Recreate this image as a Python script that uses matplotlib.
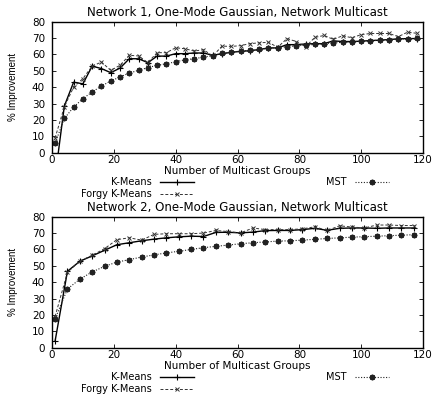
import numpy as np
import matplotlib
matplotlib.use("Agg")
import matplotlib.pyplot as plt
from matplotlib.lines import Line2D

plt.rcParams['font.family'] = ['DejaVu Sans']

# ---------- data, network 1 (x = 1, 4, ..., 118) ----------
x1 = list(range(1, 119, 3))
kmeans1 = [-15, 28.5, 43, 42, 52.8, 51.3, 48.8, 51.6, 57.3, 57.3, 54.9, 58.9, 58.9, 60.4,
           60.4, 60.8, 60.8, 59.4, 60.4, 61.2, 61.8, 62.2, 62.9, 63.9, 63.9, 65.9, 65.9,
           66.3, 66.5, 66.5, 68.2, 67.8, 67.8, 68, 68.4, 68.6, 69, 69.4, 69.6, 69.6]
forgy1 = [9, 28, 40, 45.2, 52.8, 55.3, 50.2, 53.3, 59.4, 59, 55, 61, 61, 64,
          63.4, 62, 62.8, 59, 65, 64.8, 65.3, 66.5, 67, 67.3, 64.3, 69.6, 67.8,
          64.6, 70.3, 71.5, 69.1, 71.3, 70.1, 72, 72.7, 72.7, 72.7, 70.8, 73.5, 72.8]
mst1 = [5.7, 20.9, 27.8, 33, 37, 40.7, 43.7, 46.2, 48.6, 50.2, 51.9, 53.3, 54.3, 55.4,
        56.7, 57.3, 58.3, 59.2, 60.6, 61.3, 62, 62.4, 63, 63.7, 64.1, 64.7, 65.2,
        65.6, 66, 66.5, 67, 67.3, 67.6, 68, 68.3, 68.6, 69, 69.3, 69.5, 69.7]

# ---------- data, network 2 (x = 1, 5, ..., 117) ----------
x2 = list(range(1, 118, 4))
kmeans2 = [4, 46.6, 52.7, 56, 59.4, 62.8, 64, 65.2, 66.2, 67, 67.6, 68, 67.8, 70.3, 70.4,
           70, 70.5, 71.4, 71.5, 71.5, 72, 72.8, 71.6, 72.8, 73, 73, 72.8, 73, 73, 73]
forgy2 = [19, 46, 52.8, 56.3, 60.4, 65.9, 67, 65.6, 69.1, 69.5, 69.5, 69.5, 69.9, 71.5, 70.8,
          70, 73, 72, 72, 72, 72.5, 73.7, 71.5, 74.3, 73.6, 73, 74.8, 74.8, 74.5, 74.5]
mst2 = [17.5, 35.8, 41.8, 46.2, 49.6, 52.2, 53.7, 55.3, 56.6, 57.8, 58.8, 59.9, 61, 61.8, 62.6,
        63.4, 64, 64.5, 65, 65.2, 65.6, 66.1, 66.6, 67, 67.4, 67.7, 68, 68.3, 68.6, 68.9]

titles = ["Network 1, One-Mode Gaussian, Network Multicast",
          "Network 2, One-Mode Gaussian, Network Multicast"]
xticks = [0, 20, 40, 60, 80, 100, 120]
yticks = [0, 10, 20, 30, 40, 50, 60, 70, 80]

star = (8, 2, 0)
styles = {
    "K-Means": dict(color="black", lw=1.0, ls="-", marker="+", ms=4, mew=0.8),
    "Forgy K-Means": dict(color="#333333", lw=0.7, ls=(0, (3, 2)), marker="x", ms=3.5, mew=0.7),
    "MST": dict(color="#222222", lw=0.8, ls=(0, (1, 1.5)), marker=star, ms=4, mew=1.2),
}

fig = plt.figure(figsize=(4.35, 3.94), dpi=100)
axes = [fig.add_axes([0.1195, 0.6124, 0.853, 0.333]),
        fig.add_axes([0.1195, 0.1175, 0.853, 0.333])]

panels = [(x1, kmeans1, forgy1, mst1), (x2, kmeans2, forgy2, mst2)]

# key entries: name, right edge of text (axes coords), row
key = [("K-Means", 0.27, -0.227),
       ("Forgy K-Means", 0.27, -0.314),
       ("MST", 0.795, -0.227)]

for ax, (xs, km, fg, ms), title in zip(axes, panels, titles):
    ax.plot(xs, km, **styles["K-Means"])
    ax.plot(xs, fg, **styles["Forgy K-Means"])
    ax.plot(xs, ms, **styles["MST"])
    ax.set_xlim(0, 120)
    ax.set_ylim(0, 80)
    ax.set_xticks(xticks)
    ax.set_yticks(yticks)
    ax.tick_params(direction="in", top=True, right=True, labelsize=7.5, length=3, width=0.6)
    ax.tick_params(axis="y", pad=5)
    ax.tick_params(axis="x", pad=2)
    ax.set_title(title, fontsize=8.5, pad=4)
    ax.set_ylabel("% Improvement", fontsize=7,
                  family=["Liberation Sans Narrow", "Liberation Sans"])
    ax.yaxis.set_label_coords(-0.092, 0.5)
    ax.set_xlabel("Number of Multicast Groups", fontsize=7.5)
    ax.xaxis.set_label_coords(0.5, -0.14)
    ax.xaxis.label.set_va("center")
    for s in ax.spines.values():
        s.set_linewidth(1.0)

    # gnuplot style key below the plot: text on the left, sample on the right
    for name, tx, ty in key:
        ax.text(tx, ty, name, transform=ax.transAxes, ha="right", va="center", fontsize=7)
        st = styles[name]
        ax.add_line(Line2D([tx + 0.022, tx + 0.112], [ty, ty], transform=ax.transAxes,
                           clip_on=False, color=st["color"], lw=st["lw"], ls=st["ls"]))
        ax.add_line(Line2D([tx + 0.067], [ty], transform=ax.transAxes, clip_on=False,
                           ls="none", color=st["color"], marker=st["marker"],
                           ms=st["ms"], mew=st["mew"]))

fig.savefig("out.png", dpi=100)
